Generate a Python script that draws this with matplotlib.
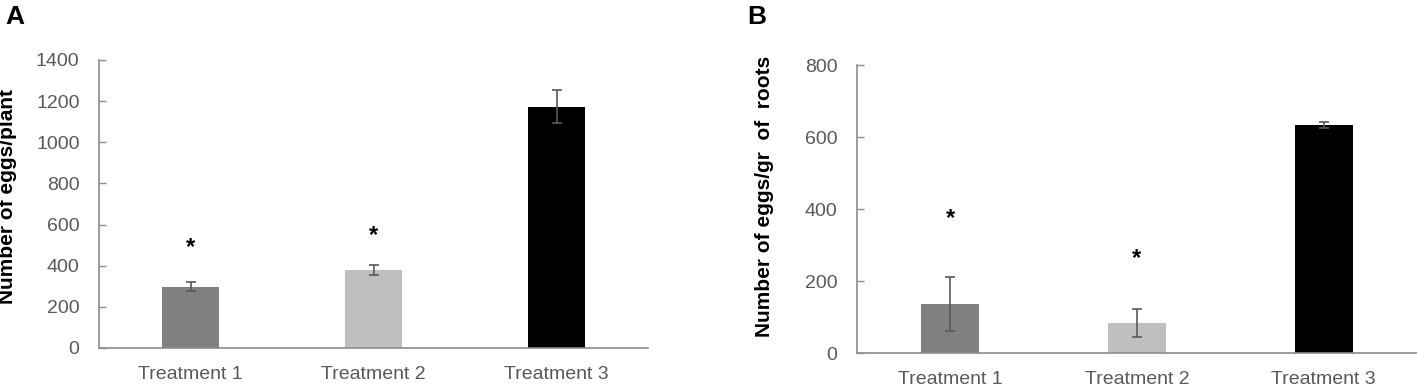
import matplotlib
matplotlib.use("Agg")
import matplotlib.pyplot as plt

plt.rcParams['font.family'] = ['Liberation Sans', 'DejaVu Sans']

categories = ["Treatment 1", "Treatment 2", "Treatment 3"]
bar_colors = ["#808080", "#bfbfbf", "#000000"]

# Panel A: eggs per plant
a_values = [297, 380, 1172]
a_errors = [22, 24, 80]
a_star_y = [487, 545]
a_yticks = [0, 200, 400, 600, 800, 1000, 1200, 1400]

# Panel B: eggs per gram of roots
b_values = [136, 83, 633]
b_errors = [75, 39, 9]
b_star_y = [374, 263]
b_yticks = [0, 200, 400, 600, 800]

W, H = 1417, 385
fig = plt.figure(figsize=(W / 100, H / 100), dpi=100)

gray_txt = "#595959"
spine_col = "#8c8c8c"


def make_panel(rect, values, errors, stars, yticks, ymax):
    ax = fig.add_axes(rect)
    x = list(range(len(categories)))
    ax.bar(x, values, width=0.31, color=bar_colors, zorder=2)
    ax.errorbar(x, values, yerr=errors, fmt='none', ecolor="#595959",
                elinewidth=1.2, capsize=3.5, capthick=1.2, zorder=3)
    for i, sy in enumerate(stars):
        ax.text(x[i], sy, "*", ha='center', va='center', fontsize=17,
                fontweight='bold', color='black')
    ax.set_xlim(-0.5, len(categories) - 0.5)
    ax.set_ylim(0, ymax)
    ax.set_yticks(yticks)
    ax.set_xticks(x)
    ax.set_xticklabels(categories)
    for s in ['top', 'right']:
        ax.spines[s].set_visible(False)
    for s in ['left', 'bottom']:
        ax.spines[s].set_color(spine_col)
        ax.spines[s].set_linewidth(1.2)
    ax.tick_params(axis='y', direction='in', length=5, width=1.0,
                   color=spine_col, labelsize=14, labelcolor=gray_txt, pad=14)
    ax.tick_params(axis='x', length=0, labelsize=14, labelcolor=gray_txt, pad=13)
    return ax


axA = make_panel([99 / W, 37 / H, (648 - 99) / W, (348 - 60) / H],
                 a_values, a_errors, a_star_y, a_yticks, 1400)
axB = make_panel([857 / W, 32 / H, (1417 - 857) / W, (353 - 65) / H],
                 b_values, b_errors, b_star_y, b_yticks, 800)

fig.text(8 / W, 1 - 196 / H, "Number of eggs/plant", rotation=90,
         ha='center', va='center', fontsize=15, fontweight='bold')
fig.text(764 / W, 1 - 196 / H, "Number of eggs/gr  of  roots", rotation=90,
         ha='center', va='center', fontsize=15, fontweight='bold')

fig.text(5 / W, 1 - 5 / H, "A", ha='left', va='top', fontsize=19, fontweight='bold')
fig.text(747 / W, 1 - 5 / H, "B", ha='left', va='top', fontsize=19, fontweight='bold')

fig.savefig("out.png", dpi=100)
